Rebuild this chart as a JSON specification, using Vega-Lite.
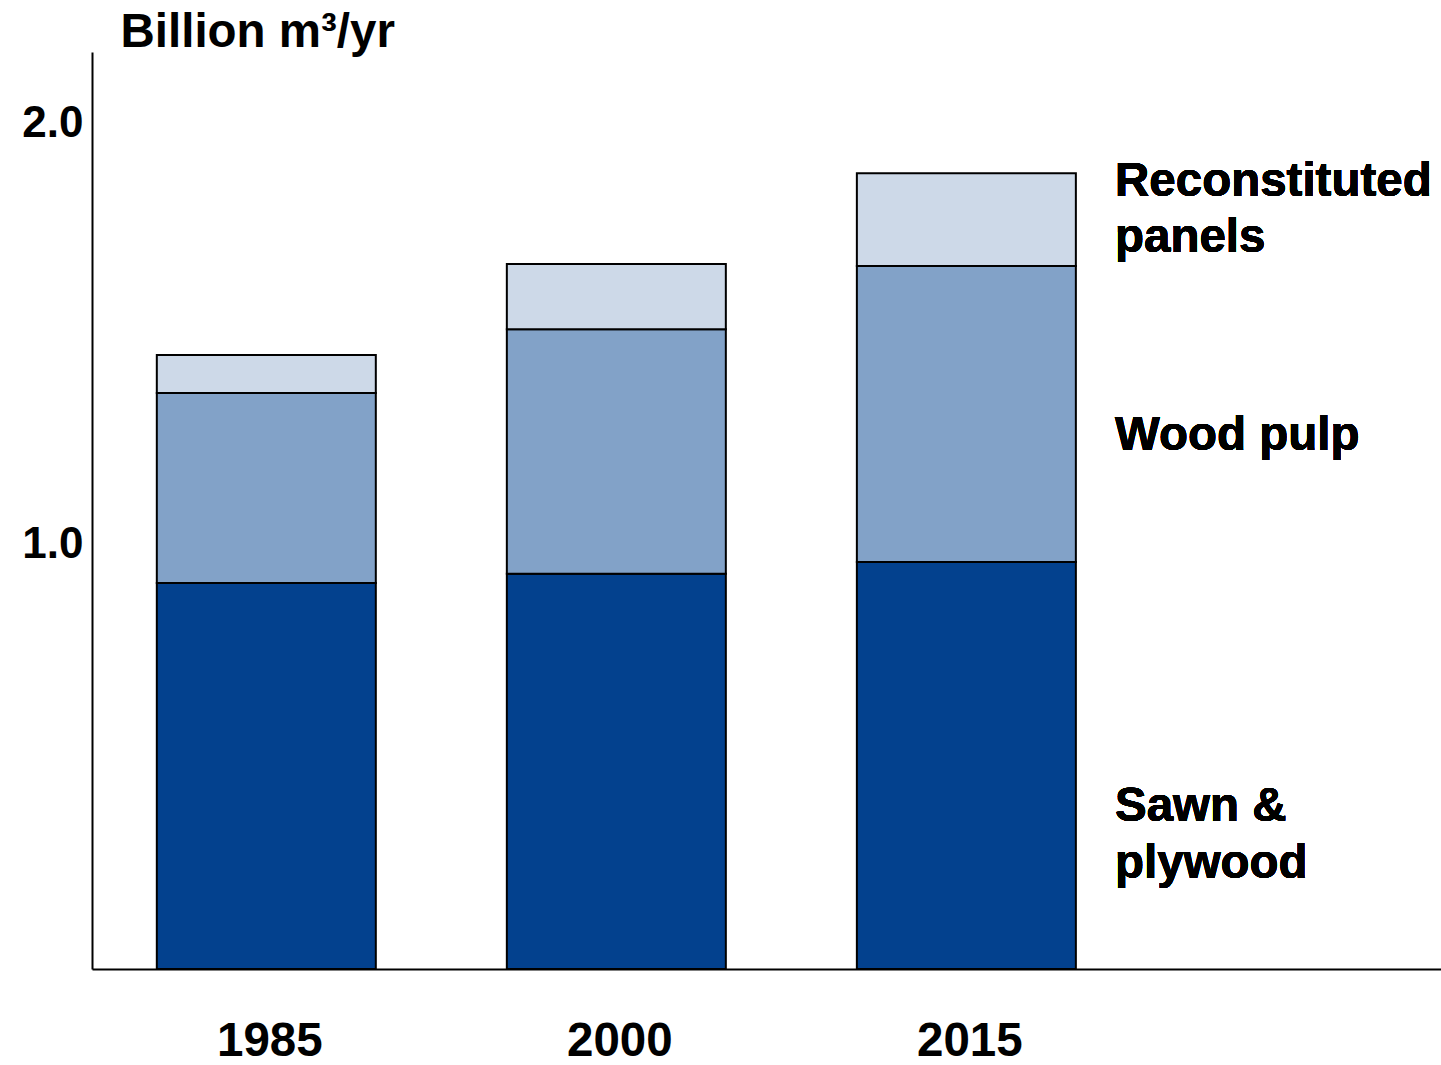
{
  "$schema": "https://vega.github.io/schema/vega-lite/v6.json",
  "autosize": {"type": "none"},
  "padding": {"left": 92, "top": 52, "right": 0, "bottom": 96},
  "width": 1349,
  "height": 917,
  "background": "white",
  "config": {
    "view": {"stroke": null},
    "font": "Liberation Sans"
  },
  "data": {
    "values": [
      {"year": 1985, "product": "Sawn & plywood", "layer": 1, "volume": 0.916},
      {"year": 1985, "product": "Wood pulp", "layer": 2, "volume": 0.451},
      {"year": 1985, "product": "Reconstituted panels", "layer": 3, "volume": 0.090},
      {"year": 2000, "product": "Sawn & plywood", "layer": 1, "volume": 0.938},
      {"year": 2000, "product": "Wood pulp", "layer": 2, "volume": 0.580},
      {"year": 2000, "product": "Reconstituted panels", "layer": 3, "volume": 0.155},
      {"year": 2015, "product": "Sawn & plywood", "layer": 1, "volume": 0.966},
      {"year": 2015, "product": "Wood pulp", "layer": 2, "volume": 0.702},
      {"year": 2015, "product": "Reconstituted panels", "layer": 3, "volume": 0.220}
    ]
  },
  "layer": [
    {
      "mark": {"type": "bar", "width": 219, "stroke": "black", "strokeWidth": 2},
      "encoding": {
        "x": {
          "field": "year",
          "type": "quantitative",
          "scale": {"domain": [1977.53, 2035.34], "nice": false, "zero": false, "padding": 0},
          "axis": {
            "values": [1985, 2000, 2015],
            "format": "d",
            "title": null,
            "ticks": false,
            "grid": false,
            "domainColor": "black",
            "domainWidth": 2,
            "labelFont": "Liberation Sans",
            "labelFontSize": 47.5,
            "labelFontWeight": "bold",
            "labelColor": "black",
            "labelBaseline": "alphabetic",
            "labelPadding": 86,
            "labelOffset": 3,
            "labelFlush": false,
            "labelOverlap": false
          }
        },
        "y": {
          "field": "volume",
          "type": "quantitative",
          "stack": "zero",
          "scale": {"domain": [0, 2.176], "nice": false, "padding": 0},
          "axis": {
            "values": [1, 2],
            "format": ".1f",
            "title": "Billion m³/yr",
            "titleAngle": 0,
            "titleAlign": "left",
            "titleBaseline": "alphabetic",
            "titleX": 28,
            "titleY": -6,
            "titleFont": "Liberation Sans",
            "titleFontSize": 47.5,
            "titleFontWeight": "bold",
            "titleColor": "black",
            "ticks": false,
            "grid": false,
            "domainColor": "black",
            "domainWidth": 2,
            "labelFont": "Liberation Sans",
            "labelFontSize": 44,
            "labelFontWeight": "bold",
            "labelColor": "black",
            "labelPadding": 9,
            "labelOffset": -3,
            "labelFlush": false
          }
        },
        "color": {
          "field": "product",
          "type": "nominal",
          "scale": {
            "domain": ["Sawn & plywood", "Wood pulp", "Reconstituted panels"],
            "range": ["#03418E", "#82A2C8", "#CDD9E8"]
          },
          "legend": null
        },
        "order": {"field": "layer", "type": "quantitative"}
      }
    },
    {
      "mark": {"type": "text", "align": "left", "baseline": "alphabetic", "font": "Liberation Sans", "fontSize": 47.5, "fontWeight": "bold", "color": "black", "lineHeight": 56, "text": ["Reconstituted", "panels"]},
      "encoding": {
        "x": {"datum": 2021.37, "type": "quantitative"},
        "y": {"datum": 1.834, "type": "quantitative"}
      }
    },
    {
      "mark": {"type": "text", "align": "left", "baseline": "alphabetic", "font": "Liberation Sans", "fontSize": 47.5, "fontWeight": "bold", "color": "black", "text": "Wood pulp"},
      "encoding": {
        "x": {"datum": 2021.37, "type": "quantitative"},
        "y": {"datum": 1.231, "type": "quantitative"}
      }
    },
    {
      "mark": {"type": "text", "align": "left", "baseline": "alphabetic", "font": "Liberation Sans", "fontSize": 47.5, "fontWeight": "bold", "color": "black", "lineHeight": 57, "text": ["Sawn &", "plywood"]},
      "encoding": {
        "x": {"datum": 2021.37, "type": "quantitative"},
        "y": {"datum": 0.351, "type": "quantitative"}
      }
    }
  ]
}
